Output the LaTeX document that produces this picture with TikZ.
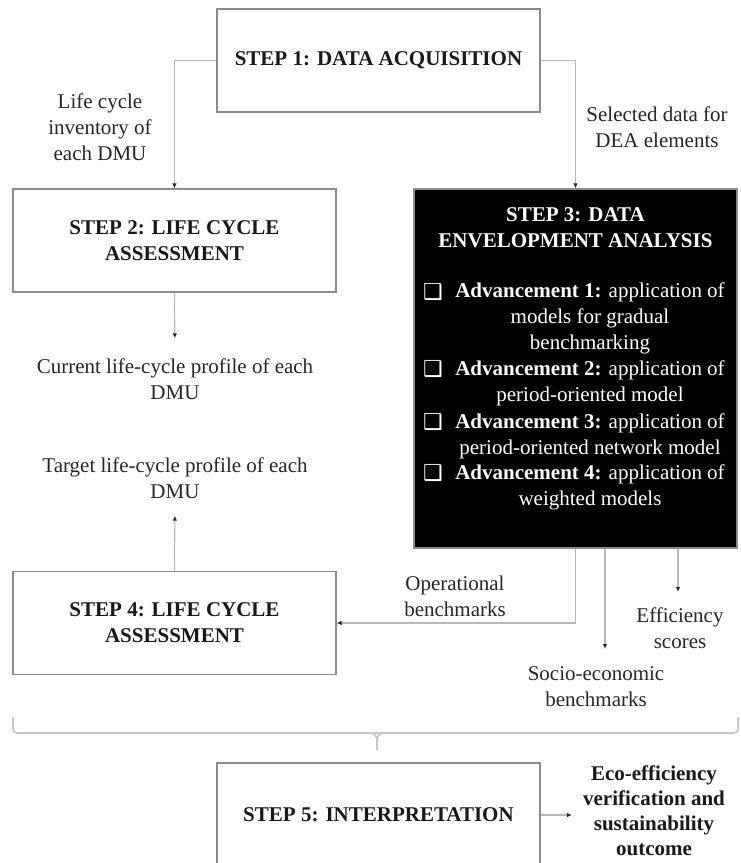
\documentclass[tikz,border=0pt]{standalone}
\usepackage{fontspec}
\setmainfont{Liberation Serif}
\newfontfamily\dejavu{DejaVu Sans}
\usepackage{tikz}
\usetikzlibrary{positioning}
\usetikzlibrary{arrows.meta}
\newcommand{\bigtxt}{\fontsize{21}{26}\selectfont}
\tikzstyle{stepbox}=[draw=black!45,line width=1.2pt,minimum width=323pt,minimum height=103pt,align=center,font=\bigtxt\bfseries,text=black!90]
\tikzstyle{conn}=[draw=black!28,line width=1.1pt,-{Latex[length=5pt,width=4.5pt,color=black!85]}]
\tikzstyle{lbl}=[align=center,inner sep=0pt,font=\bigtxt,text=black!85]
\tikzstyle{advtxt}=[align=center,inner sep=0pt,font=\bigtxt,text=white]
\tikzstyle{chk}=[inner sep=0pt,font=\dejavu\fontsize{22}{22}\selectfont,text=white]
\tikzstyle{brc}=[draw=black!22,line width=1.8pt]

\begin{document}
\begin{tikzpicture}[x=1pt,y=-1pt]
	\clip (0,0) rectangle (740,863);
	\useasboundingbox (0,0) rectangle (740,863);

	% steps
	\node[stepbox] (step1) at (378.5,60.5) {STEP 1: DATA ACQUISITION};
	\node[stepbox] (step2) at (174.5,240.5) {STEP 2: LIFE CYCLE\\ASSESSMENT};
	\node[stepbox,fill=black,minimum height=359pt] (step3) at (575.5,368.5) {};
	\node[stepbox] (step4) at (174.5,623) {STEP 4: LIFE CYCLE\\ASSESSMENT};
	\node[stepbox,minimum height=104pt] (step5) at (378.5,815) {STEP 5: INTERPRETATION};

	% inside step 3
	\node[advtxt,font=\bigtxt\bfseries] (s3title) at (575.5,228) {STEP 3: DATA\\ENVELOPMENT ANALYSIS};
	\foreach \y [count=\i] in {292,369,422,473}
	{
		\node[chk] (chk\i) at (433,\y) {❑};
	}
	\node[advtxt] (adv1) at (590,318) {\textbf{Advancement 1:} application of\\models for gradual\\benchmarking};
	\node[advtxt] (adv2) at (590,383) {\textbf{Advancement 2:} application of\\period-oriented model};
	\node[advtxt] (adv3) at (590,436) {\textbf{Advancement 3:} application of\\period-oriented network model};
	\node[advtxt] (adv4) at (590,487) {\textbf{Advancement 4:} application of\\weighted models};

	% labels
	\node[lbl] (lci) at (100,127) {Life cycle\\inventory of\\each DMU};
	\node[lbl] (seldata) at (657,127) {Selected data for\\DEA elements};
	\node[lbl] (current) at (175,379) {Current life-cycle profile of each\\DMU};
	\node[lbl] (target) at (175,478) {Target life-cycle profile of each\\DMU};
	\node[lbl] (oper) at (455,596) {Operational\\benchmarks};
	\node[lbl] (effic) at (680,628) {Efficiency\\scores};
	\node[lbl] (socio) at (596,687) {Socio-economic\\benchmarks};
	\node[lbl,font=\fontsize{21}{25}\selectfont\bfseries,text=black!90] (eco) at (654,811) {Eco-efficiency\\verification and\\sustainability\\outcome};

	\coordinate (socioend) at (605,649);
	\coordinate (efficend) at (678,592);

	% connectors
	\draw[conn] (step1.west) -| (step2.north);
	\draw[conn] (step1.east) -| (step3.north);
	\draw[conn,shorten >=20pt] (step2.south) -- (current.north);
	\draw[conn,shorten >=17pt] (step4.north) -- (target.south);
	\draw[conn] (step3.south) |- (step4.east);
	\draw[conn] (step3.south -| socioend) -- (socioend);
	\draw[conn] (step3.south -| efficend) -- (efficend);
	\draw[conn,shorten >=11pt] (step5.east) -- (step5.east -| eco.west);

	% brace
	\draw[brc,rounded corners=4pt] (13,717) -- (13,733) -- (738,733) -- (738,717);
	\draw[brc] (370,733) to[out=0,in=90] (377,740) -- (377,750);
	\draw[brc] (384,733) to[out=180,in=90] (377,740);
\end{tikzpicture}
\end{document}
